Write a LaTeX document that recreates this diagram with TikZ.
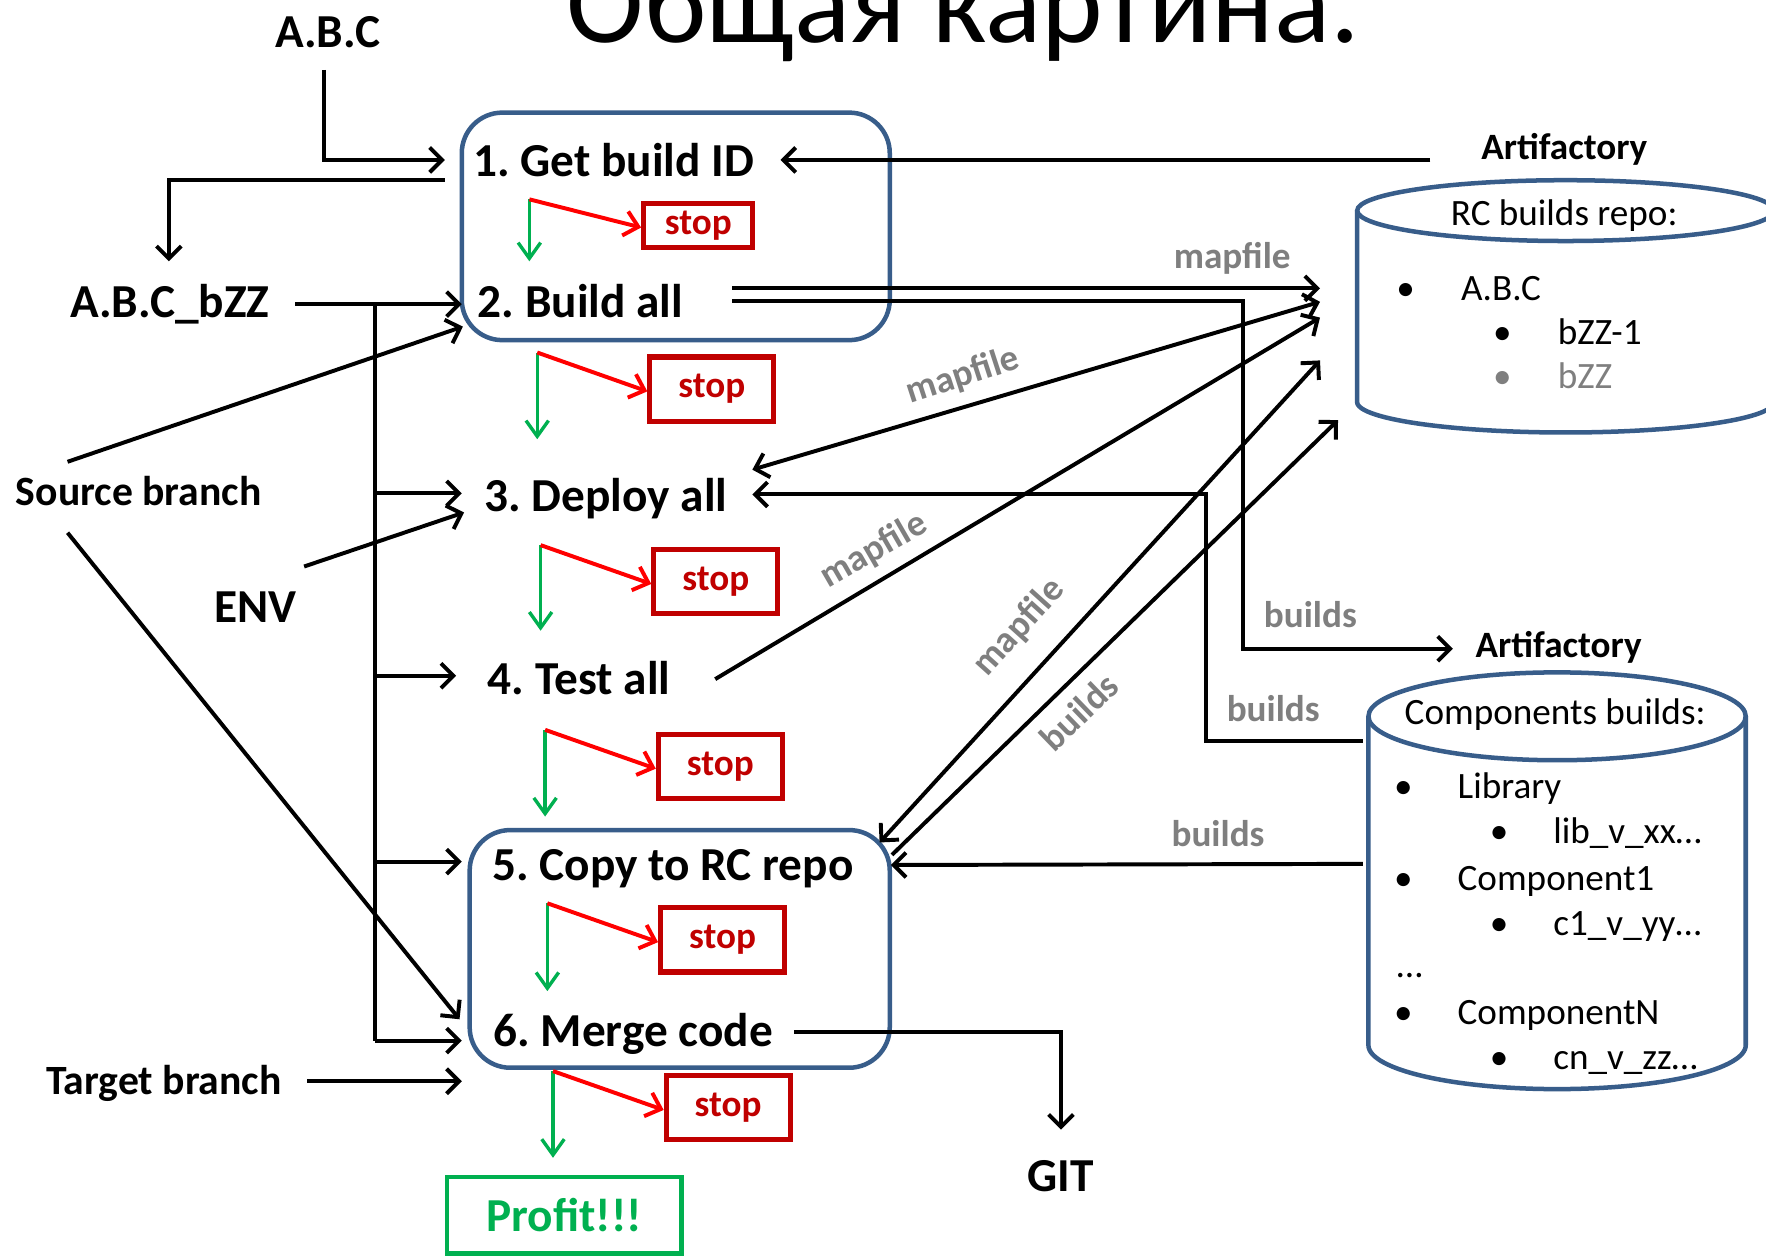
\documentclass[tikz,border=0pt]{standalone}
\usepackage{fontspec}
\setmainfont{Carlito}
\usetikzlibrary{arrows.meta}
\definecolor{boxblue}{RGB}{56,93,138}
\definecolor{stopred}{RGB}{192,0,0}
\definecolor{arrred}{RGB}{255,0,0}
\definecolor{okgreen}{RGB}{0,176,80}
\definecolor{labgrey}{RGB}{127,127,127}
\newcommand\fsz[1]{\fontsize{#1pt}{#1pt}\selectfont}
\frenchspacing
\begin{document}
\begin{tikzpicture}[x=1pt,y=-1pt,
  >={Straight Barb[length=11pt,width=22pt]},
  txt/.style={inner sep=0pt,anchor=base west},
  bigb/.style={txt,font=\fsz{42}\bfseries},
  midb/.style={txt,font=\fsz{37}\bfseries},
  smb/.style={txt,font=\fsz{33}\bfseries},
  reg/.style={txt,font=\fsz{33}},
  bul/.style={inner sep=0pt,anchor=base,font=\fsz{33}},
  greylbl/.style={inner sep=0pt,font=\fsz{33}\bfseries,text=labgrey},
  conn/.style={draw=black,line width=3.5pt,->},
  dconn/.style={draw=black,line width=3.5pt,<->},
  wire/.style={draw=black,line width=3.5pt},
  stoparr/.style={draw=arrred,line width=3.5pt,-{Straight Barb[length=12pt,width=22pt]}},
  goarr/.style={draw=okgreen,line width=3pt,-{Straight Barb[length=14pt,width=20pt]}},
  stagebox/.style={draw=boxblue,line width=4pt,rounded corners=36pt},
  stopbox/.style={draw=stopred,line width=4.5pt,text=stopred,font=\fsz{33}\bfseries,
    inner sep=0pt,minimum width=110pt,minimum height=57pt},
  cyl/.style={draw=boxblue,line width=4pt}]

\useasboundingbox (0,0) rectangle (1568,1115);
\fill[white] (0,0) rectangle (1568,1115);
\clip (0,0) rectangle (1568,1115);

% heading
\node[txt,font=\fsz{104}] (title) at (503,38) {Общая картина.};

% process stages
\node[stagebox,minimum width=380pt,minimum height=202pt] (grpA) at (600,201) {};
\node[stagebox,minimum width=373pt,minimum height=211pt] (grpB) at (603.5,842.5) {};

\node[bigb] (s1t) at (420,157) {1. Get build ID};
\node[bigb] (s2t) at (424,282) {2. Build all};
\node[bigb] (s3t) at (430,454) {3. Deploy all};
\node[bigb] (s4t) at (433,617) {4. Test all};
\node[bigb] (s5t) at (437,782) {5. Copy to RC repo};
\node[bigb] (s6t) at (438,929) {6. Merge code};

% failure exits
\node[stopbox,minimum width=97pt,minimum height=39pt] (stop1) at (620,200) {stop};
\node[stopbox] (stop2) at (632,345.5) {stop};
\node[stopbox] (stop3) at (635.5,516.5) {stop};
\node[stopbox] (stop4) at (639.5,680.5) {stop};
\node[stopbox] (stop5) at (641.5,834.5) {stop};
\node[stopbox] (stop6) at (646.5,983.5) {stop};

\node[draw=okgreen,line width=4pt,text=okgreen,font=\fsz{42}\bfseries,inner sep=0pt,
  minimum width=208pt,minimum height=68pt] (profit) at (501,1079) {Profit!!!};

% forks: red to stop, green to next stage
\coordinate (f1) at (470,177); \coordinate (g1) at (470,232);
\coordinate (f2) at (477,313); \coordinate (g2) at (477,390);
\coordinate (f3) at (480,484); \coordinate (g3) at (480,560);
\coordinate (f4) at (484,648); \coordinate (g4) at (484,725);
\coordinate (f5) at (486,802); \coordinate (g5) at (486,880);
\coordinate (f6) at (491,951); \coordinate (g6) at (491,1028);
\foreach \i in {1,...,6}{
  \draw[goarr] (f\i) -- (g\i);
  \draw[stoparr] (f\i) -- ([yshift=-2pt]stop\i.west);
}

% inputs on the left
\node[bigb] (abc) at (244,42) {A.B.C};
\node[bigb] (abcb) at (62,282) {A.B.C\_bZZ};
\node[midb] (src) at (14,449) {Source branch};
\node[bigb] (env) at (190,553) {ENV};
\node[midb] (tgt) at (41,972) {Target branch};
\node[bigb] (git) at (912,1058) {GIT};

\coordinate (abcOut) at (288,62);   \coordinate (getIn) at (395,142);
\coordinate (getOut) at (395,160);  \coordinate (bzzIn) at (150,232);
\coordinate (bzzOut) at (262,270);  \coordinate (buildIn) at (410,270);
\coordinate (busBot) at (333,924);
\coordinate (deployIn) at (410,438); \coordinate (testIn) at (405,600);
\coordinate (copyIn) at (410,765);   \coordinate (mergeIn) at (410,924);
\coordinate (srcUp) at (60,410);     \coordinate (buildIn2) at (411,290);
\coordinate (srcDn) at (60,473);     \coordinate (mergeIn2) at (408,905);
\coordinate (envOut) at (270,503);   \coordinate (deployIn2) at (412,455);
\coordinate (tgtOut) at (273,960);   \coordinate (mergeIn3) at (410,960);
\coordinate (mergeOut) at (705,916); \coordinate (gitIn) at (942,1003);

\draw[conn] (abcOut) |- (getIn);
\draw[conn] (getOut) -| (bzzIn);
\draw[conn] (bzzOut) -- (buildIn);
\draw[wire] (busBot |- buildIn) -- (busBot);
\foreach \t in {deployIn,testIn,copyIn,mergeIn}
  \draw[conn] (busBot |- \t) -- (\t);
\draw[conn] (srcUp) -- (buildIn2);
\draw[conn] (srcDn) -- (mergeIn2);
\draw[conn] (envOut) -- (deployIn2);
\draw[conn] (tgtOut) -- (mergeIn3);
\draw[conn] (mergeOut) -| (gitIn);

% repositories on the right
\node[smb] (artA) at (1315,142) {Artifactory};
\node[smb] (artB) at (1310,584) {Artifactory};

\draw[cyl] (1575,187) -- (1575,357)
  -- plot[domain=0:180,samples=90] ({1390+185*cos(\x)},{357+27*sin(\x)}) -- (1205,187);
\draw[cyl] (1390,187) ellipse [x radius=185,y radius=27];

\draw[cyl] (1550,636) -- (1550,928)
  -- plot[domain=0:180,samples=90] ({1382.5+167.5*cos(\x)},{928+39*sin(\x)}) -- (1215,636);
\draw[cyl] (1382.5,636) ellipse [x radius=167.5,y radius=39];

\node[reg] (rcTitle) at (1288,200) {RC builds repo:};
\node[bul] (rcb1) at (1248,267) {•};
\node[reg] (rci1) at (1297,267) {A.B.C};
\node[bul] (rcb2) at (1334,306) {•};
\node[reg] (rci2) at (1383,306) {bZZ-1};
\node[bul,text=labgrey] (rcb3) at (1334,345) {•};
\node[reg,text=labgrey] (rci3) at (1383,345) {bZZ};

\node[reg] (cbTitle) at (1247,643) {Components builds:};
\node[bul] (cbb1) at (1246,709) {•};
\node[reg] (cbi1) at (1294,709) {Library};
\node[bul] (cbb2) at (1331,749) {•};
\node[reg] (cbi2) at (1379,749) {lib\_v\_xx…};
\node[bul] (cbb3) at (1246,791) {•};
\node[reg] (cbi3) at (1294,791) {Component1};
\node[bul] (cbb4) at (1331,831) {•};
\node[reg] (cbi4) at (1379,831) {c1\_v\_yy…};
\node[reg] (cbdots) at (1240,868) {…};
\node[bul] (cbb5) at (1246,910) {•};
\node[reg] (cbi5) at (1294,910) {ComponentN};
\node[bul] (cbb6) at (1331,950) {•};
\node[reg] (cbi6) at (1379,950) {cn\_v\_zz…};

% data flows between stages and repositories
\coordinate (artAOut) at (1270,142); \coordinate (getIn2) at (693,142);
\coordinate (bOutA) at (650,256);    \coordinate (rcInA) at (1172,256);
\coordinate (bOutB) at (650,267);    \coordinate (bDrop) at (1104,576);
\coordinate (artBIn) at (1290,576);
\coordinate (rcInB) at (1172,268);   \coordinate (deployIn3) at (668,417);
\coordinate (testOut) at (635,603);  \coordinate (rcInC) at (1172,282);
\coordinate (rcInD) at (1172,320);   \coordinate (copyIn2) at (781,748);
\coordinate (copyOut) at (792,759);  \coordinate (rcInE) at (1188,373);
\coordinate (compOutA) at (1210,658); \coordinate (cTurn) at (1071,658);
\coordinate (deployIn4) at (668,439);
\coordinate (compOutB) at (1210,767); \coordinate (copyIn3) at (791,768);

\draw[conn] (artAOut) -- (getIn2);
\draw[conn] (bOutA) -- (rcInA);
\draw[conn] (bOutB) -| (bDrop) -- (artBIn);
\draw[dconn] (deployIn3) -- (rcInB);
\draw[conn] (testOut) -- (rcInC);
\draw[dconn] (copyIn2) -- (rcInD);
\draw[conn] (copyOut) -- (rcInE);
\draw[conn] (compOutA) -- (cTurn) |- (deployIn4);
\draw[conn] (compOutB) -- (copyIn3);

\node[greylbl,anchor=base west] (lm1) at (1042,238) {mapfile};
\node[greylbl,rotate=18] (lm2) at (855,334) {mapfile};
\node[greylbl,rotate=30] (lm3) at (776,489) {mapfile};
\node[greylbl,rotate=48] (lm4) at (905,557) {mapfile};
\node[greylbl,rotate=44] (lb1) at (958,632) {builds};
\node[greylbl,anchor=base west] (lb2) at (1122,557) {builds};
\node[greylbl,anchor=base west] (lb3) at (1089,641) {builds};
\node[greylbl,anchor=base west] (lb4) at (1040,752) {builds};
\end{tikzpicture}
\end{document}
